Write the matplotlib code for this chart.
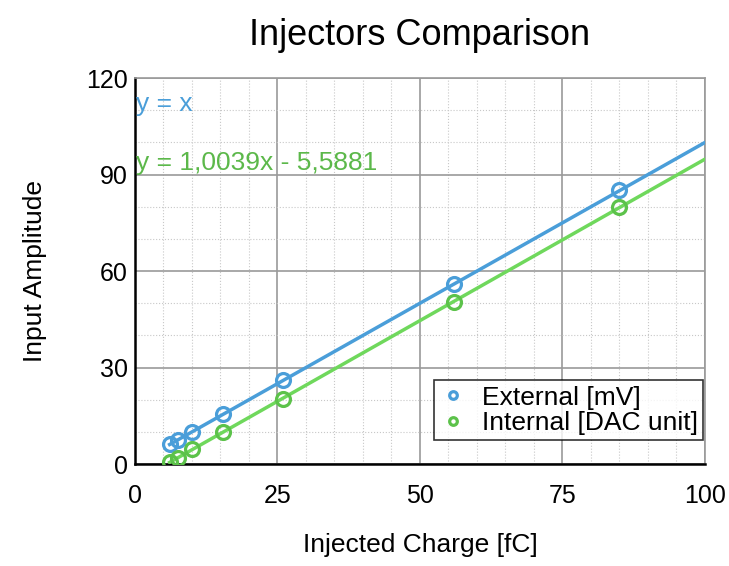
import numpy as np
import matplotlib.pyplot as plt
from matplotlib.ticker import MultipleLocator

plt.rcParams['font.family'] = ['Liberation Sans', 'DejaVu Sans']

# Injected charge [fC] for each measurement
charge = [6.1, 7.5, 10.0, 15.5, 26.0, 56.0, 85.0]
# External injector amplitude [mV]
external = [6.3, 7.6, 10.1, 15.6, 26.0, 56.0, 85.3]
# Internal injector amplitude [DAC unit]
internal = [0.7, 2.0, 4.6, 9.9, 20.3, 50.5, 79.9]

# linear fits shown on the chart
fit_ext = (1.0, 0.0)
fit_int = (1.0039, -5.5881)

blue = '#4a9ed9'
green = '#6fd85c'

fig = plt.figure(figsize=(7.29, 5.66), dpi=100)
ax = fig.add_axes([0.185, 0.18, 0.782, 0.682])

xs = np.array([charge[0], 100])
ax.plot(xs, fit_ext[0] * xs + fit_ext[1], color=blue, lw=2.5, zorder=3)
ax.plot(xs, fit_int[0] * xs + fit_int[1], color=green, lw=2.5, zorder=3)

ax.plot(charge, external, 'o', ms=10, mfc='none', mec=blue, mew=2.3, zorder=4,
        label='External [mV]')
ax.plot(charge, internal, 'o', ms=10, mfc='none', mec='#5cc24a', mew=2.3, zorder=4,
        label='Internal [DAC unit]')

ax.set_xlim(0, 100)
ax.set_ylim(0, 120)
ax.xaxis.set_major_locator(MultipleLocator(25))
ax.yaxis.set_major_locator(MultipleLocator(30))
ax.xaxis.set_minor_locator(MultipleLocator(5))
ax.yaxis.set_minor_locator(MultipleLocator(10))
ax.grid(which='major', color='#9a9a9a', lw=1.2)
ax.grid(which='minor', color='#c8c8c8', lw=0.8, ls=':')
ax.set_axisbelow(True)
ax.tick_params(which='both', length=0, labelsize=18)
ax.tick_params(axis='x', pad=14)
ax.tick_params(axis='y', pad=5)

for s in ['top', 'right']:
    ax.spines[s].set_color('#9a9a9a')
    ax.spines[s].set_linewidth(1.2)
for s in ['left', 'bottom']:
    ax.spines[s].set_color('black')
    ax.spines[s].set_linewidth(1.8)

ax.set_title('Injectors Comparison', fontsize=26, pad=24)
ax.set_xlabel('Injected Charge [fC]', fontsize=19, labelpad=18)
ax.set_ylabel('Input Amplitude', fontsize=19, labelpad=28)

ax.text(0.2, 112, 'y = x', color=blue, fontsize=19, va='center')
ax.text(0.2, 93.5, 'y = 1,0039x - 5,5881', color='#5cb84a', fontsize=19, va='center')

leg = ax.legend(loc='lower right', bbox_to_anchor=(0.997, 0.062), fontsize=19,
                frameon=True, fancybox=False, edgecolor='black', markerscale=0.55,
                handlelength=1.0, handletextpad=0.6, borderpad=0.2, labelspacing=0.05,
                borderaxespad=0.0)
leg.get_frame().set_linewidth(1.2)

fig.savefig('out.png', dpi=100)
